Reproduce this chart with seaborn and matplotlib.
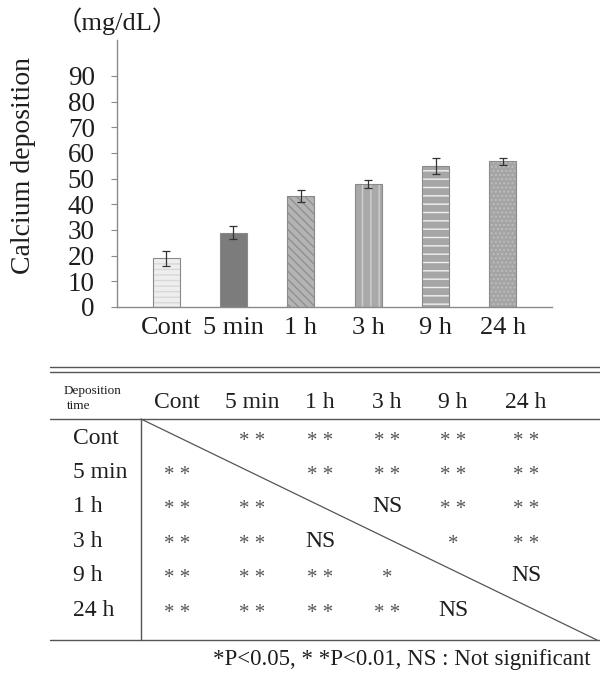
import numpy as np
import pandas as pd
import seaborn as sns
import matplotlib.pyplot as plt

# data
times = ['Cont', '5 min', '1 h', '3 h', '9 h', '24 h']
calcium_mean = [19, 29, 43.3, 47.8, 55, 56.8]
calcium_sd = [3.0, 2.4, 2.3, 1.6, 3.0, 1.3]

# pairwise significance (row vs column)
sig_cont = ['', '**', '**', '**', '**', '**']
sig_5min = ['**', '', '**', '**', '**', '**']
sig_1h = ['**', '**', '', 'NS', '**', '**']
sig_3h = ['**', '**', 'NS', '', '*', '**']
sig_9h = ['**', '**', '**', '*', '', 'NS']
sig_24h = ['**', '**', '**', '**', 'NS', '']
sig_rows = [sig_cont, sig_5min, sig_1h, sig_3h, sig_9h, sig_24h]

sns.set_style('white')
plt.rcParams['font.family'] = ['Liberation Serif', 'Noto Sans CJK JP', 'DejaVu Sans']

df = pd.DataFrame({'time': times, 'calcium': calcium_mean})

fig = plt.figure(figsize=(6, 6.75), dpi=100)
txt_c = '#1e1e1e'

# ---- bar chart ----
ax = fig.add_axes([117/600, 1-307/675, (552-117)/600, (307-40)/675])
faces = ['#eeeeee', '#7c7c7c', '#b4b4b4', '#a9a9a9', '#a6a6a6', '#a4a4a4']
hatch_col = ['#d8d8d8', '#7c7c7c', '#909090', '#cfcfcf', '#f2f2f2', '#bdbdbd']
hatches = ['---', '', '\\\\\\\\', '||', '--', '....']
sns.barplot(data=df, x='time', y='calcium', ax=ax, width=0.4, color='#aaaaaa', zorder=2)
for p, fc, hc, h in zip(ax.patches, faces, hatch_col, hatches):
    p.set_facecolor(fc)
    p.set_edgecolor(hc)
    p.set_hatch(h)
    p.set_linewidth(0.6)
# outlines on top
sns.barplot(data=df, x='time', y='calcium', ax=ax, width=0.4, fill=False,
            edgecolor='#8a8a8a', linewidth=0.8, zorder=3)
ax.errorbar(np.arange(len(times)), calcium_mean, yerr=calcium_sd, fmt='none',
            ecolor='#333333', elinewidth=0.9, capsize=3, capthick=0.9, zorder=4)

ax.set_xlim(-0.73, 5.73)
ax.set_ylim(0, 104)
ax.set_yticks(range(0, 100, 10))
ax.set_xlabel('')
ax.set_ylabel('')
for s in ['top', 'right']:
    ax.spines[s].set_visible(False)
for s in ['left', 'bottom']:
    ax.spines[s].set_color('#8a8a8a')
    ax.spines[s].set_linewidth(1.0)
ax.tick_params(axis='y', left=True, length=4, width=0.8, color='#8a8a8a',
               pad=12, labelsize=19.5, labelcolor=txt_c)
ax.tick_params(axis='x', bottom=False, pad=4, labelsize=19, labelcolor=txt_c)

fig.text(24/600, 1-166/675, 'Calcium deposition', rotation=90, ha='center',
         va='center', fontsize=20, color=txt_c)
fig.text(56/600, 1-21/675, '（mg/dL）', ha='left', va='center', fontsize=19,
         color=txt_c)

# ---- significance table ----
tx = fig.add_axes([0, 0, 1, 1], zorder=-1)
tx.set_xlim(0, 600)
tx.set_ylim(675, 0)
tx.axis('off')

line_c = '#555555'
tx.plot([50, 600], [367, 367], color=line_c, lw=1)
tx.plot([50, 600], [371.5, 371.5], color=line_c, lw=1)
tx.plot([50, 600], [419, 419], color=line_c, lw=1)
tx.plot([50, 600], [640, 640], color=line_c, lw=1)
tx.plot([141, 141], [419, 640], color=line_c, lw=1)
tx.plot([141, 597], [419, 640], color=line_c, lw=0.9)

col_x = [177, 252, 320, 387, 453, 526]
row_y0, row_dy = 438, 34.4

tx.text(64, 391, 'Deposition', fontsize=9.5, va='center', ha='left', color=txt_c)
tx.text(67, 406, 'time', fontsize=9.5, va='center', ha='left', color=txt_c)
for xc, t in zip(col_x, times):
    tx.text(xc, 402, t, fontsize=17, ha='center', va='center', color=txt_c)

for i, (t, row) in enumerate(zip(times, sig_rows)):
    yc = row_y0 + i * row_dy
    tx.text(73, yc, t, fontsize=17, ha='left', va='center', color=txt_c)
    for xc, s in zip(col_x, row):
        if s == '':
            continue
        if s == 'NS':
            tx.text(xc, yc, 'NS', fontsize=17, ha='center', va='center', color=txt_c)
        else:
            tx.text(xc, yc + 3, ' '.join(s), fontsize=15, ha='center', va='center',
                    color='#555555')

tx.text(591, 660, '*P<0.05, * *P<0.01, NS : Not significant', fontsize=16.5,
        ha='right', va='center', color=txt_c)

fig.savefig('out.png', dpi=100)
